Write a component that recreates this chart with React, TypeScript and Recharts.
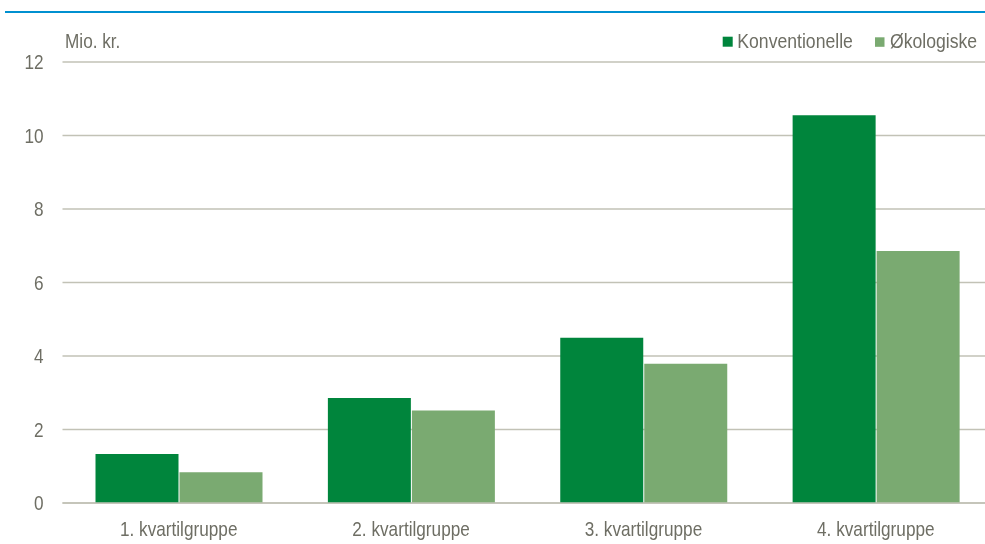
import React from 'react';
import { BarChart, Bar, XAxis, YAxis, CartesianGrid } from 'recharts';

const categories = ['1. kvartilgruppe', '2. kvartilgruppe', '3. kvartilgruppe', '4. kvartilgruppe'];
const konventionelle = [1.33, 2.86, 4.5, 10.55];
const oekologiske = [0.84, 2.52, 3.79, 6.86];
const yTicks = [0, 2, 4, 6, 8, 10, 12];
const seriesNames = ['Konventionelle', 'Økologiske'];

const DARK = '#00853C';
const LIGHT = '#7AAA71';
const TEXT = '#6E6E64';
const GRID = '#C2C2B6';
const FONT = "'Liberation Sans', Arial, sans-serif";
const SX = 0.86; // the original font is condensed

const data = categories.map((c, i) => ({
  name: c,
  konv: konventionelle[i],
  oeko: oekologiske[i],
}));

// narrow text, squeezed horizontally around its anchor point
const NarrowText = ({ x, y, anchor = 'start', dy = 0, size = 20, children }: any) => (
  <g transform={`translate(${x},${y})`}>
    <text
      transform={`scale(${SX},1)`}
      textAnchor={anchor}
      dy={dy}
      fill={TEXT}
      fontSize={size}
      fontFamily={FONT}
    >
      {children}
    </text>
  </g>
);

const XTick = (props: any) => (
  <NarrowText x={props.x} y={props.y} anchor="middle" dy="0.71em">
    {props.payload.value}
  </NarrowText>
);

const YTick = (props: any) => (
  <NarrowText x={props.x} y={props.y} anchor="end" dy="0.355em">
    {props.payload.value}
  </NarrowText>
);

export default function App() {
  return (
    <div style={{ position: 'fixed', left: 0, top: 0, width: 985, height: 544, overflow: 'hidden' }}>
      <BarChart
        width={998}
        height={544}
        data={data}
        margin={{ top: 62, right: 6, bottom: 0, left: 0 }}
        barCategoryGap={33}
        barGap={1}
      >
        <CartesianGrid vertical={false} stroke={GRID} strokeWidth={1.5} />
        <XAxis
          dataKey="name"
          height={41}
          axisLine={{ stroke: GRID, strokeWidth: 1.5 }}
          tickLine={false}
          tickMargin={13}
          tick={<XTick />}
        />
        <YAxis
          width={62.5}
          domain={[0, 12]}
          ticks={yTicks}
          axisLine={false}
          tickLine={false}
          tickMargin={13}
          tick={<YTick />}
        />
        <Bar dataKey="konv" name={seriesNames[0]} fill={DARK} isAnimationActive={false} />
        <Bar dataKey="oeko" name={seriesNames[1]} fill={LIGHT} isAnimationActive={false} />
      </BarChart>
      <svg
        width={985}
        height={544}
        style={{ position: 'absolute', left: 0, top: 0, pointerEvents: 'none' }}
      >
        <rect x={5} y={11} width={980} height={2} fill="#0090D0" />
        <NarrowText x={65} y={48.3}>Mio. kr.</NarrowText>
        <rect x={722.7} y={36.7} width={10} height={10} fill={DARK} />
        <NarrowText x={737.3} y={47.7} size={20.5}>{seriesNames[0]}</NarrowText>
        <rect x={875} y={37.3} width={9.5} height={9.5} fill={LIGHT} />
        <NarrowText x={890} y={47.7} size={20.5}>{seriesNames[1]}</NarrowText>
      </svg>
    </div>
  );
}
